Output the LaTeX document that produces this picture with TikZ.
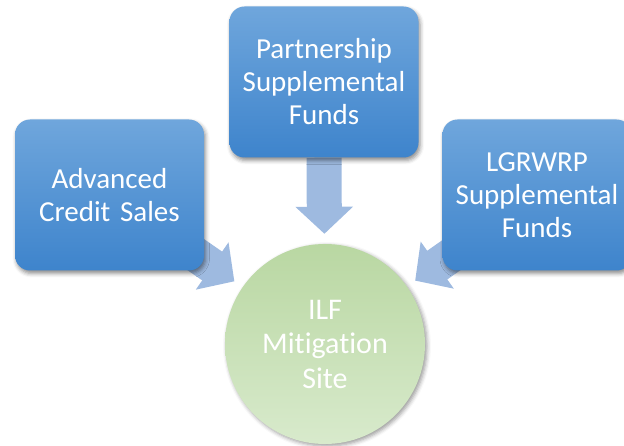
\documentclass[tikz,border=0pt]{standalone}
\usepackage{fontspec}
\setmainfont{Carlito}[Ligatures=NoCommon]
\usepackage{tikz}
\usetikzlibrary{arrows.meta, positioning, backgrounds, shadows.blur}
\definecolor{boxtop}{RGB}{111,166,220}
\definecolor{boxbot}{RGB}{62,132,204}
\definecolor{flow}{RGB}{158,186,224}
\definecolor{sitetop}{RGB}{185,215,162}
\definecolor{sitebot}{RGB}{216,234,204}

\begin{document}
\begin{tikzpicture}[x=1pt, y=1pt,
  src/.style={rectangle, rounded corners=15pt, top color=boxtop, bottom color=boxbot,
              minimum width=189pt, minimum height=151pt, text width=180pt, align=center,
              text=white, font=\fontsize{29}{33}\selectfont,
              blur shadow={shadow xshift=1.5pt, shadow yshift=-3pt, shadow blur radius=4pt, shadow opacity=45}},
  site/.style={circle, top color=sitetop, bottom color=sitebot, minimum size=200pt,
               text width=160pt, align=center, text=white, font=\fontsize{30}{34.5}\selectfont,
               blur shadow={shadow xshift=2pt, shadow yshift=-2pt, shadow blur radius=4pt, shadow opacity=40}},
  flowarr/.style={draw=flow, line width=35pt, -{Triangle[length=27pt, width=56pt]}, shorten >=10pt}
]
\useasboundingbox (0,0) rectangle (624,445);
\clip (0,0) rectangle (624,445);

\node[site] (ilf) at (325,101) {ILF\\ Mitigation\\ Site};
\node[src] (psf) at (324,363) {Partnership\\ Supplemental\\ Funds};
\node[src] (acs) at (109.5,250) {Advanced\\ Credit Sales};
\node[src] (lgr) at (537,250) {LGRWRP\\ Supplemental\\ Funds};

\begin{scope}[on background layer]
  \draw[flowarr] (psf.south) -- (ilf);
  \draw[flowarr] (acs.center) -- (ilf);
  \draw[flowarr] (lgr.center) -- (ilf);
\end{scope}
\end{tikzpicture}
\end{document}
